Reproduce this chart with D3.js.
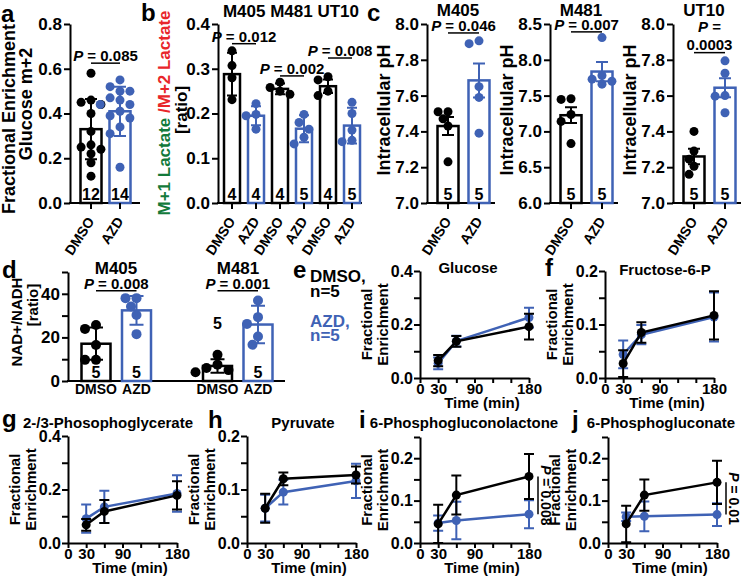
<!DOCTYPE html>
<html>
<head>
<meta charset="utf-8">
<script src="https://cdn.jsdelivr.net/npm/d3@7"></script>
<style>
  body { margin: 0; background: #fff; }
  svg { display: block; font-family: "Liberation Sans", Arial, Helvetica, sans-serif; font-weight: bold; }
</style>
</head>
<body>
<svg id="fig" width="750" height="579"></svg>
<script>
// ---- data ----
const BLUE = "#3f62b5", BLACK = "#000";

// a: glucose m+2 enrichment
const aGroups = ["DMSO", "AZD"];
const aMean = [0.33, 0.41];
const aSD = [0.135, 0.11];
const aN = [12, 14];
const aDmso = [0.58, 0.46, 0.45, 0.44, 0.40, 0.32, 0.26, 0.25, 0.24, 0.22, 0.18, 0.12];
const aAzd = [0.55, 0.52, 0.50, 0.50, 0.47, 0.46, 0.44, 0.44, 0.41, 0.39, 0.38, 0.34, 0.31, 0.16];

// b: M+1/M+2 lactate ratio, M405 M481 UT10
const bGroups = ["DMSO", "AZD", "DMSO", "AZD", "DMSO", "AZD"];
const bMean = [0.288, 0.195, 0.255, 0.166, 0.261, 0.173];
const bSD = [0.048, 0.021, 0.012, 0.03, 0.015, 0.04];
const bN = [4, 4, 4, 5, 4, 5];
const bDots = [
  [0.34, 0.307, 0.28, 0.231],
  [0.222, 0.198, 0.195, 0.165],
  [0.27, 0.258, 0.25, 0.243],
  [0.198, 0.18, 0.165, 0.147, 0.132],
  [0.282, 0.275, 0.25, 0.24],
  [0.225, 0.2, 0.163, 0.14, 0.137]
];
const bP = ["0.012", "0.002", "0.008"];

// c: intracellular pH
const cLines = ["M405", "M481", "UT10"];
const cMean = [[7.43, 7.685], [7.226, 7.836], [7.26, 7.644]];
const cSEM = [[0.05, 0.095], [0.11, 0.135], [0.043, 0.053]];
const cDots = [
  [[7.51, 7.51, 7.47, 7.43, 7.23], [7.906, 7.89, 7.65, 7.59, 7.39]],
  [[7.456, 7.447, 7.236, 7.14, 6.83], [8.31, 7.78, 7.73, 7.70, 7.66]],
  [[7.40, 7.29, 7.245, 7.205, 7.16], [7.794, 7.725, 7.6, 7.597, 7.504]]
];
const cN = [5, 5];
const cP = ["0.046", "0.007", "0.0003"];

// d: NAD+/NADH
const dLines = ["M405", "M481"];
const dMean = [17.1, 32.4, 6.9, 25.9];
const dSD = [7.4, 6.6, 3.1, 8.6];
const dN = [5, 5, 5, 5];
const dDots = [
  [25.7, 23.9, 16.5, 9.7, 9.7],
  [38, 38, 34.2, 30.3, 21.5],
  [12, 7.5, 6, 5, 4],
  [36.9, 29.3, 26.2, 20.4, 16.6]
];
const dP = ["0.008", "0.001"];

// e-j: fractional enrichment time courses (DMSO / AZD, mean and SD)
const times = [30, 60, 180];
const timeLabels = [0, 30, 90, 180];
const lineN = [5, 5];
const eDmso = [0.065, 0.137, 0.192], eDmsoErr = [0.021, 0.02, 0.048];
const eAzd  = [0.055, 0.138, 0.226], eAzdErr  = [0.022, 0.02, 0.037];
const fDmso = [0.027, 0.085, 0.117], fDmsoErr = [0.025, 0.019, 0.045];
const fAzd  = [0.044, 0.081, 0.114], fAzdErr  = [0.026, 0.018, 0.046];
const gDmso = [0.068, 0.118, 0.178], gDmsoErr = [0.022, 0.043, 0.053];
const gAzd  = [0.091, 0.135, 0.185], gAzdErr  = [0.053, 0.06, 0.068];
const hDmso = [0.065, 0.12, 0.127], hDmsoErr = [0.027, 0.012, 0.016];
const hAzd  = [0.065, 0.095, 0.116], hAzdErr  = [0.025, 0.023, 0.032];
const iDmso = [0.045, 0.113, 0.157], iDmsoErr = [0.045, 0.046, 0.053];
const iAzd  = [0.047, 0.053, 0.068], iAzdErr  = [0.018, 0.044, 0.033];
const jDmso = [0.045, 0.113, 0.143], jDmsoErr = [0.043, 0.037, 0.051];
const jAzd  = [0.062, 0.063, 0.067], jAzdErr  = [0.01, 0.035, 0.027];
const iP = "0.008", jP = "0.01";

// ---- helpers ----
const svg = d3.select("#fig");

function label(x, y, s, size, o = {}) {
  const t = svg.append("text").attr("x", x).attr("y", y)
    .attr("font-size", size)
    .attr("text-anchor", o.anchor || "start")
    .attr("fill", o.fill || BLACK);
  if (o.rotate) t.attr("transform", `rotate(${o.rotate},${x},${y})`);
  if (s) t.text(s);
  return t;
}

function pText(x, y, val, size, o = {}) {
  const t = label(x, y, "", size, o);
  t.append("tspan").attr("font-style", "italic").text("P");
  t.append("tspan").text(" = " + val);
  return t;
}

function styleAxis(sel, size) {
  sel.attr("font-family", null).attr("font-size", size).attr("font-weight", "bold");
  sel.select(".domain").attr("stroke-width", 2);
  sel.selectAll(".tick line").attr("stroke-width", 2);
  sel.selectAll(".tick text").attr("fill", BLACK);
}

// simple beeswarm: offsets so dots do not sit on top of each other
function swarm(vals, y, r) {
  const placed = [];
  return vals.map(v => {
    const py = y(v);
    let dx = 0;
    for (let k = 0; k < 30; k++) {
      const cand = k === 0 ? 0 : (k % 2 ? -1 : 1) * Math.ceil(k / 2) * r * 1.1;
      if (placed.every(p => Math.hypot(p[0] - cand, p[1] - py) >= 2 * r * 0.95)) { dx = cand; break; }
    }
    placed.push([dx, py]);
    return [dx, py];
  });
}

function barPanel(o) {
  const g = svg.append("g");
  const n = o.mean.length;
  const slots = o.slots || d3.range(n);
  const y = d3.scaleLinear().domain(o.domain).range([o.y0, o.y1]);
  const x = d3.scaleLinear().domain([0, 1]).range([o.c0, o.c0 + o.step]);
  const cx = i => x(slots[i]);
  const ticks = d3.range(o.domain[0], o.domain[1] + 1e-9, o.tickStep);
  const isLab = v => { const k = (v - o.domain[0]) / o.labelStep; return Math.abs(k - Math.round(k)) < 1e-6; };

  const ya = g.append("g").attr("transform", `translate(${o.axisX},0)`)
    .call(d3.axisLeft(y).tickValues(ticks).tickSize(6).tickSizeOuter(0).tickPadding(2)
      .tickFormat(v => isLab(v) ? d3.format(o.fmt)(v) : ""));
  styleAxis(ya, 17);

  g.append("line").attr("x1", o.axisX - 1).attr("x2", o.axisEnd)
    .attr("y1", o.y0).attr("y2", o.y0).attr("stroke", BLACK).attr("stroke-width", 2);

  g.selectAll("rect.bar").data(o.mean).join("rect").attr("class", "bar")
    .attr("x", (d, i) => cx(i) - o.bw / 2).attr("y", d => y(d))
    .attr("width", o.bw).attr("height", d => o.y0 - y(d))
    .attr("fill", "#fff").attr("stroke", (d, i) => o.colors[i]).attr("stroke-width", 2.5);

  o.dots.forEach((vals, i) => {
    g.selectAll(null).data(swarm(vals, y, o.r)).join("circle")
      .attr("cx", p => cx(i) + p[0]).attr("cy", p => p[1]).attr("r", o.r)
      .attr("fill", o.colors[i]);
  });

  o.mean.forEach((m, i) => {
    const X = cx(i), w = o.cap / 2, hi = y(m + o.err[i]), lo = y(Math.max(o.domain[0], m - o.err[i]));
    g.append("path")
      .attr("d", `M${X},${lo}V${hi}M${X - w},${hi}H${X + w}M${X - w},${lo}H${X + w}`)
      .attr("stroke", o.colors[i]).attr("stroke-width", 2).attr("fill", "none");
  });

  o.n.forEach((v, i) => {
    const inside = o.y0 - y(o.mean[i]) > 22;
    const yy = inside ? o.y0 - 3 : y(o.mean[i] + o.err[i]) - 30;
    label(cx(i), yy, String(v), 16, { anchor: "middle" });
  });

  if (o.rotLabels) {
    o.groups.forEach((c, i) => {
      g.append("line").attr("x1", cx(i)).attr("x2", cx(i)).attr("y1", o.y0).attr("y2", o.y0 + 6)
        .attr("stroke", BLACK).attr("stroke-width", 2);
      label(cx(i) + 4, o.y0 + 18, c, 14, { anchor: "end", rotate: -57 });
    });
  } else {
    o.groups.forEach((c, i) => label(cx(i), o.y0 + 13, c, 14, { anchor: "middle" }));
  }

  (o.pvals || []).forEach(p => {
    const ly = y(p.at);
    g.append("line").attr("x1", cx(p.i)).attr("x2", cx(p.j)).attr("y1", ly).attr("y2", ly)
      .attr("stroke", BLACK).attr("stroke-width", 1.5);
    const mx = (cx(p.i) + cx(p.j)) / 2;
    if (p.split) {
      label(mx, ly - 21, "", 15, { anchor: "middle" })
        .call(t => { t.append("tspan").attr("font-style", "italic").text("P"); t.append("tspan").text(" ="); });
      label(mx, ly - 3, p.p, 15, { anchor: "middle" });
    } else {
      pText(mx, ly - 2, p.p, 15, { anchor: "middle" });
    }
  });
  return { cx, y };
}

function linePanel(o) {
  const g = svg.append("g");
  const x = d3.scaleLinear().domain([0, 180]).range([o.axisX, o.axisX + 109]);
  const y = d3.scaleLinear().domain(o.domain).range([o.y0, o.y1]);
  const ticks = d3.range(0, o.domain[1] + 1e-9, o.tickStep);
  const isLab = v => { const k = v / o.labelStep; return Math.abs(k - Math.round(k)) < 1e-6; };

  const ya = g.append("g").attr("transform", `translate(${o.axisX},0)`)
    .call(d3.axisLeft(y).tickValues(ticks).tickSize(6).tickSizeOuter(0).tickPadding(1)
      .tickFormat(v => isLab(v) ? d3.format(".1f")(v) : ""));
  styleAxis(ya, 16);

  const xa = g.append("g").attr("transform", `translate(0,${o.y0})`)
    .call(d3.axisBottom(x).tickValues(d3.range(0, 181, 30)).tickSize(5).tickSizeOuter(0).tickPadding(0)
      .tickFormat(v => timeLabels.includes(v) ? String(v) : ""));
  styleAxis(xa, 15);

  label(o.axisX + 62, o.y0 + 30, "Time (min)", 15, { anchor: "middle" });
  label(o.titleX, o.titleY, o.title, 15, { anchor: "middle" });
  const ym = (o.y0 + o.y1) / 2;
  label(o.axisX - 48, ym, "Fractional", 15, { anchor: "middle", rotate: -90 });
  label(o.axisX - 32, ym, "Enrichment", 15, { anchor: "middle", rotate: -90 });

  const line = d3.line().x(d => x(d[0])).y(d => y(d[1]));
  o.series.forEach(s => {
    const pts = times.map((t, k) => [t, s.vals[k], s.errs[k]]);
    g.append("path").datum(pts).attr("d", line).attr("fill", "none")
      .attr("stroke", s.color).attr("stroke-width", 2.5);
    pts.forEach(p => {
      const X = x(p[0]), hi = y(p[1] + p[2]), lo = y(Math.max(0, p[1] - p[2]));
      g.append("path").attr("d", `M${X},${lo}V${hi}M${X - 5},${hi}H${X + 5}M${X - 5},${lo}H${X + 5}`)
        .attr("stroke", s.color).attr("stroke-width", 2).attr("fill", "none");
    });
    g.selectAll(null).data(pts).join("circle")
      .attr("cx", p => x(p[0])).attr("cy", p => y(p[1])).attr("r", 4.5).attr("fill", s.color);
  });

  if (o.p) {
    const lx = x(180) + 9, y1 = y(o.series[1].vals[2]), y2 = y(o.series[0].vals[2]);
    g.append("line").attr("x1", lx).attr("x2", lx).attr("y1", y1).attr("y2", y2)
      .attr("stroke", BLACK).attr("stroke-width", 1.5);
    pText(lx + 3, (y1 + y2) / 2, o.p, 14, { anchor: "middle", rotate: 90 });
  }
}

// ---- panel letters ----
[["a", 1, 22], ["b", 141, 21], ["c", 367, 21], ["d", 2, 278], ["e", 293, 278], ["f", 545, 276],
 ["g", 2, 427], ["h", 208, 428], ["i", 359, 428], ["j", 572, 428]]
  .forEach(d => label(d[1], d[2], d[0], 24));

// ---- a ----
barPanel({
  groups: aGroups, mean: aMean, err: aSD, n: aN, dots: [aDmso, aAzd], colors: [BLACK, BLUE],
  domain: [0, 0.8], y0: 203, y1: 24, tickStep: 0.2, labelStep: 0.2, fmt: ".1f",
  axisX: 70, axisEnd: 140, c0: 91, step: 29, bw: 21, r: 4.5, cap: 12, rotLabels: true,
  pvals: [{ i: 0, j: 1, at: 0.625, p: "0.085" }]
});
label(15, 119, "Fractional Enrichment", 18, { anchor: "middle", rotate: -90 });
label(32, 104, "Glucose m+2", 18, { anchor: "middle", rotate: -90 });

// ---- b ----
barPanel({
  groups: bGroups, mean: bMean, err: bSD, n: bN, dots: bDots,
  colors: bGroups.map(gr => gr === "DMSO" ? BLACK : BLUE),
  domain: [0, 0.4], y0: 203, y1: 24, tickStep: 0.1, labelStep: 0.1, fmt: ".1f",
  axisX: 218, axisEnd: 362, c0: 232, step: 24, bw: 16, r: 4.5, cap: 10, rotLabels: true,
  pvals: [{ i: 0, j: 1, at: 0.356, p: bP[0] }, { i: 2, j: 3, at: 0.284, p: bP[1] }, { i: 4, j: 5, at: 0.324, p: bP[2] }]
});
label(291, 17, cLines.join(" "), 17, { anchor: "middle" });
{
  const t = label(170, 113, "", 17, { anchor: "middle", rotate: -90 });
  t.append("tspan").attr("fill", "#137a3a").text("M+1 Lactate ");
  t.append("tspan").attr("fill", "#e8262a").text("/M+2 Lactate");
  label(187, 110, "[ratio]", 17, { anchor: "middle", rotate: -90 });
}

// ---- c ----
const cCfg = [
  { axisX: 427, domain: [7.0, 8.0], tickStep: 0.2, at: 7.95 },
  { axisX: 550, domain: [6.0, 8.5], tickStep: 0.5, at: 8.39 },
  { axisX: 673, domain: [7.0, 8.0], tickStep: 0.2, at: 7.84 }
];
cCfg.forEach((c, k) => {
  barPanel({
    groups: aGroups, mean: cMean[k], err: cSEM[k], n: cN, dots: cDots[k], colors: [BLACK, BLUE],
    domain: c.domain, y0: 203, y1: 24, tickStep: c.tickStep, labelStep: c.tickStep, fmt: ".1f",
    axisX: c.axisX, axisEnd: c.axisX + 68, c0: c.axisX + 21, step: 31, bw: 21, r: 4.5, cap: 12, rotLabels: true,
    pvals: [{ i: 0, j: 1, at: c.at, p: cP[k], split: k === 2 }]
  });
  label(c.axisX + 31, 16, cLines[k], 17, { anchor: "middle" });
  label(c.axisX - 37, 110, "Intracellular pH", 18, { anchor: "middle", rotate: -90 });
});

// ---- d ----
barPanel({
  groups: ["DMSO", "AZD", "DMSO", "AZD"], mean: dMean, err: dSD, n: dN, dots: dDots,
  colors: [BLACK, BLUE, BLACK, BLUE], slots: [0, 1, 3, 4],
  domain: [0, 50], y0: 381, y1: 272, tickStep: 10, labelStep: 20, fmt: "d",
  axisX: 68, axisEnd: 285, c0: 96, step: 40.5, bw: 29, r: 5, cap: 14, rotLabels: false,
  pvals: [{ i: 0, j: 1, at: 41.4, p: dP[0] }, { i: 2, j: 3, at: 41.4, p: dP[1] }]
});
label(116, 274, dLines[0], 17, { anchor: "middle" });
label(238, 274, dLines[1], 17, { anchor: "middle" });
label(22, 322, "NAD+/NADH", 15, { anchor: "middle", rotate: -90 });
label(38, 305, "[ratio]", 15, { anchor: "middle", rotate: -90 });

// ---- e legend ----
[["DMSO,", BLACK], ["AZD,", BLUE]].forEach((d, k) => {
  label(310, 282 + k * 45, d[0], 17, { fill: d[1] });
  label(310, 297 + k * 44, "n=" + lineN[k], 17, { fill: d[1] });
});

// ---- e-j ----
const ser = (az, azE, dm, dmE) => [
  { vals: az, errs: azE, color: BLUE },
  { vals: dm, errs: dmE, color: BLACK }
];
linePanel({ axisX: 420, y0: 378, y1: 271, domain: [0, 0.4], tickStep: 0.1, labelStep: 0.2,
  title: "Glucose", titleX: 468, titleY: 273, series: ser(eAzd, eAzdErr, eDmso, eDmsoErr) });
linePanel({ axisX: 605, y0: 378, y1: 271, domain: [0, 0.2], tickStep: 0.05, labelStep: 0.1,
  title: "Fructose-6-P", titleX: 665, titleY: 275, series: ser(fAzd, fAzdErr, fDmso, fDmsoErr) });
linePanel({ axisX: 68, y0: 543, y1: 436, domain: [0, 0.4], tickStep: 0.1, labelStep: 0.2,
  title: "2-/3-Phosophoglycerate", titleX: 108, titleY: 428, series: ser(gAzd, gAzdErr, gDmso, gDmsoErr) });
linePanel({ axisX: 247, y0: 543, y1: 436, domain: [0, 0.2], tickStep: 0.05, labelStep: 0.1,
  title: "Pyruvate", titleX: 303, titleY: 428, series: ser(hAzd, hAzdErr, hDmso, hDmsoErr) });
linePanel({ axisX: 420, y0: 543, y1: 437, domain: [0, 0.25], tickStep: 0.05, labelStep: 0.1,
  title: "6-Phosphogluconolactone", titleX: 464, titleY: 428, series: ser(iAzd, iAzdErr, iDmso, iDmsoErr), p: iP });
linePanel({ axisX: 608, y0: 543, y1: 437, domain: [0, 0.25], tickStep: 0.05, labelStep: 0.1,
  title: "6-Phosphogluconate", titleX: 661, titleY: 428, series: ser(jAzd, jAzdErr, jDmso, jDmsoErr), p: jP });
</script>
</body>
</html>
